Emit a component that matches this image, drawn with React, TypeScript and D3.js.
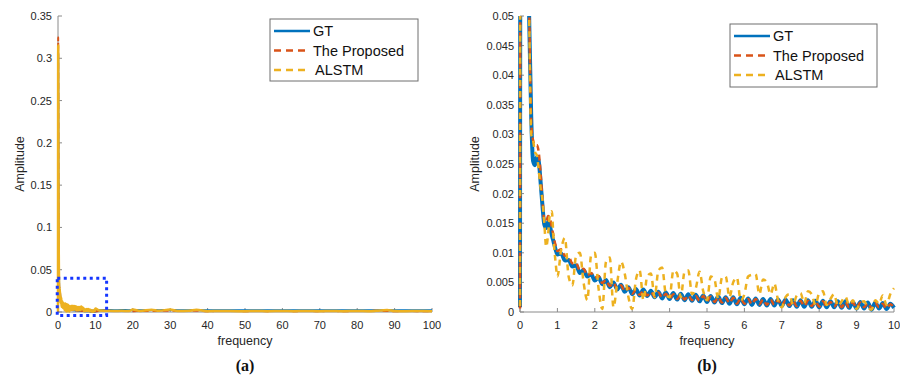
import React from 'react';
import * as d3 from 'd3';

// ---------- data ----------
const freqHead = [0, 0.05, 0.1, 0.15, 0.2, 0.25, 0.3, 0.35, 0.4, 0.45, 0.5, 0.55, 0.6, 0.65, 0.7, 0.75, 0.8, 0.85, 0.9, 0.95];
const freqBody = [
  1.0, 1.1, 1.2, 1.3, 1.4, 1.5, 1.6, 1.7, 1.8, 1.9,
  2.0, 2.1, 2.2, 2.3, 2.4, 2.5, 2.6, 2.7, 2.8, 2.9,
  3.0, 3.1, 3.2, 3.3, 3.4, 3.5, 3.6, 3.7, 3.8, 3.9,
  4.0, 4.1, 4.2, 4.3, 4.4, 4.5, 4.6, 4.7, 4.8, 4.9,
  5.0, 5.1, 5.2, 5.3, 5.4, 5.5, 5.6, 5.7, 5.8, 5.9,
  6.0, 6.1, 6.2, 6.3, 6.4, 6.5, 6.6, 6.7, 6.8, 6.9,
  7.0, 7.1, 7.2, 7.3, 7.4, 7.5, 7.6, 7.7, 7.8, 7.9,
  8.0, 8.1, 8.2, 8.3, 8.4, 8.5, 8.6, 8.7, 8.8, 8.9,
  9.0, 9.1, 9.2, 9.3, 9.4, 9.5, 9.6, 9.7, 9.8, 9.9,
  10.0,
];
const freqTail = [11, 13, 15, 17, 19, 20, 22, 25, 27, 30, 32, 35, 37, 40, 43, 46, 50, 53, 56, 60, 63, 66, 70, 73, 76, 80, 83, 85, 88, 90, 93, 96, 100];

const gtHead = [0.0008, 0.305, 0.22, 0.12, 0.07, 0.048, 0.033, 0.0255, 0.0248, 0.0262, 0.0255, 0.022, 0.018, 0.0148, 0.0142, 0.0152, 0.0145, 0.013, 0.0118, 0.0106];
const propHead = [0.0006, 0.325, 0.23, 0.13, 0.075, 0.05, 0.032, 0.029, 0.0282, 0.0282, 0.027, 0.0235, 0.019, 0.0155, 0.0152, 0.0162, 0.0158, 0.0143, 0.0127, 0.0113];
const alstmHead = [0.001, 0.315, 0.22, 0.12, 0.072, 0.048, 0.03, 0.029, 0.027, 0.0265, 0.024, 0.021, 0.019, 0.015, 0.011, 0.013, 0.0165, 0.017, 0.012, 0.0085];

const gtBody = [
  0.0097, 0.0099, 0.0087, 0.0088, 0.0077, 0.0079, 0.0066, 0.0071, 0.0060, 0.0064,
  0.0053, 0.0059, 0.0047, 0.0054, 0.0042, 0.0050, 0.0038, 0.0046, 0.0034, 0.0042,
  0.0030, 0.0039, 0.0028, 0.0038, 0.0027, 0.0036, 0.0025, 0.0034, 0.0023, 0.0033,
  0.0022, 0.0032, 0.0021, 0.0031, 0.0020, 0.0030, 0.0019, 0.0029, 0.0018, 0.0028,
  0.0017, 0.0027, 0.0016, 0.0026, 0.0015, 0.0025, 0.0014, 0.0025, 0.0013, 0.0024,
  0.0013, 0.0023, 0.0012, 0.0023, 0.0012, 0.0022, 0.0011, 0.0022, 0.0011, 0.0021,
  0.0010, 0.0021, 0.0010, 0.0020, 0.0009, 0.0020, 0.0009, 0.0020, 0.0009, 0.0019,
  0.0008, 0.0019, 0.0008, 0.0018, 0.0008, 0.0018, 0.0007, 0.0018, 0.0007, 0.0017,
  0.0006, 0.0017, 0.0006, 0.0016, 0.0004, 0.0016, 0.0006, 0.0015, 0.0005, 0.0014,
  0.0007,
];
const propBody = [
  0.0103, 0.0106, 0.0095, 0.0094, 0.0082, 0.0083, 0.0070, 0.0073, 0.0062, 0.0066,
  0.0058, 0.0061, 0.0049, 0.0054, 0.0044, 0.0049, 0.0039, 0.0045, 0.0035, 0.0041,
  0.0031, 0.0037, 0.0029, 0.0036, 0.0028, 0.0034, 0.0026, 0.0033, 0.0024, 0.0031,
  0.0023, 0.0030, 0.0022, 0.0029, 0.0021, 0.0028, 0.0020, 0.0027, 0.0019, 0.0027,
  0.0018, 0.0026, 0.0017, 0.0025, 0.0016, 0.0024, 0.0015, 0.0024, 0.0014, 0.0023,
  0.0014, 0.0022, 0.0013, 0.0022, 0.0013, 0.0021, 0.0012, 0.0021, 0.0012, 0.0020,
  0.0011, 0.0020, 0.0011, 0.0019, 0.0010, 0.0019, 0.0010, 0.0019, 0.0010, 0.0018,
  0.0009, 0.0018, 0.0009, 0.0017, 0.0009, 0.0017, 0.0008, 0.0017, 0.0008, 0.0016,
  0.0007, 0.0016, 0.0008, 0.0015, 0.0006, 0.0015, 0.0008, 0.0014, 0.0006, 0.0013,
  0.0008,
];
const alstmBody = [
  0.0060, 0.0105, 0.0125, 0.0060, 0.0045, 0.0095, 0.0100, 0.0050, 0.0020, 0.0095,
  0.0100, 0.0040, 0.0005, 0.0085, 0.0092, 0.0008, 0.0050, 0.0085, 0.0065, 0.0025,
  0.0005, 0.0055, 0.0070, 0.0020, 0.0060, 0.0065, 0.0025, 0.0070, 0.0075, 0.0030,
  0.0025, 0.0070, 0.0065, 0.0025, 0.0068, 0.0070, 0.0030, 0.0040, 0.0068, 0.0035,
  0.0020, 0.0060, 0.0055, 0.0022, 0.0058, 0.0060, 0.0025, 0.0050, 0.0058, 0.0020,
  0.0030, 0.0060, 0.0063, 0.0064, 0.0030, 0.0055, 0.0050, 0.0030, 0.0048, 0.0020,
  0.0008, 0.0025, 0.0030, 0.0012, 0.0028, 0.0032, 0.0015, 0.0035, 0.0030, 0.0012,
  0.0032, 0.0035, 0.0012, 0.0022, 0.0030, 0.0010, 0.0018, 0.0026, 0.0012, 0.0020,
  0.0005, 0.0016, 0.0018, 0.0008, 0.0004, 0.0020, 0.0014, 0.0028, 0.0012, 0.0030,
  0.0040,
];

const gtTail = [0.0022, 0.0024, 0.0021, 0.0023, 0.0022, 0.0024, 0.0021, 0.0023, 0.0022, 0.0024, 0.0021, 0.0022, 0.0023, 0.0021, 0.0022, 0.0020, 0.0022, 0.0021, 0.0020, 0.0022, 0.0021, 0.0020, 0.0021, 0.0020, 0.0021, 0.0020, 0.0021, 0.0020, 0.0021, 0.0020, 0.0021, 0.0020, 0.0020];
const propTail = [0.0012, 0.0014, 0.0011, 0.0012, 0.0013, 0.0010, 0.0012, 0.0011, 0.0013, 0.0016, 0.0011, 0.0012, 0.0015, 0.0010, 0.0011, 0.0012, 0.0010, 0.0011, 0.0010, 0.0012, 0.0010, 0.0011, 0.0010, 0.0011, 0.0010, 0.0011, 0.0012, 0.0016, 0.0011, 0.0010, 0.0011, 0.0010, 0.0010];
const alstmTail = [0.0018, 0.0015, 0.0012, 0.0014, 0.0011, 0.0030, 0.0012, 0.0028, 0.0014, 0.0030, 0.0012, 0.0014, 0.0026, 0.0010, 0.0012, 0.0011, 0.0010, 0.0012, 0.0010, 0.0011, 0.0010, 0.0012, 0.0010, 0.0011, 0.0010, 0.0012, 0.0010, 0.0014, 0.0024, 0.0012, 0.0010, 0.0011, 0.0010];

const seriesNames = ['GT', 'The Proposed', 'ALSTM'];
const leftXTicks = [0, 10, 20, 30, 40, 50, 60, 70, 80, 90, 100];
const leftYTicks = [0, 0.05, 0.1, 0.15, 0.2, 0.25, 0.3, 0.35];
const leftYLabels = ['0', '0.05', '0.1', '0.15', '0.2', '0.25', '0.3', '0.35'];
const rightXTicks = [0, 1, 2, 3, 4, 5, 6, 7, 8, 9, 10];
const rightYTicks = [0, 0.005, 0.01, 0.015, 0.02, 0.025, 0.03, 0.035, 0.04, 0.045, 0.05];
const rightYLabels = ['0', '0.005', '0.01', '0.015', '0.02', '0.025', '0.03', '0.035', '0.04', '0.045', '0.05'];
const zoomBoxX = [-0.2, 13];
const zoomBoxY = [-0.004, 0.04];

// ---------- styling ----------
const COL = { gt: '#0072BD', prop: '#D95319', alstm: '#EDB120' };
const FONT = '"Liberation Sans", Arial, sans-serif';
const AXIS = '#8a8a8a';
const TXT = '#262626';

type Pt = [number, number];
const zip = (xs: number[], ys: number[]): Pt[] => xs.map((x, i) => [x, ys[i]] as Pt);

const zoomFreq = [...freqHead, ...freqBody];
const gtZoom = zip(zoomFreq, [...gtHead, ...gtBody]);
const propZoom = zip(zoomFreq, [...propHead, ...propBody]);
const alstmZoom = zip(zoomFreq, [...alstmHead, ...alstmBody]);
const gtFull = [...gtZoom, ...zip(freqTail, gtTail)];
const propFull = [...propZoom, ...zip(freqTail, propTail)];
const alstmFull = [...alstmZoom, ...zip(freqTail, alstmTail)];

interface PanelProps {
  id: string;
  box: { l: number; r: number; t: number; b: number };
  xDomain: [number, number];
  yDomain: [number, number];
  xTicks: number[];
  yTicks: number[];
  yLabels: string[];
  lines: { data: Pt[]; color: string; width: number; dash?: string }[];
  legend: { x: number; y: number; w: number; h: number };
  yLabelX: number;
  caption: string;
  zoomBox?: boolean;
}

function Panel(p: PanelProps) {
  const x = d3.scaleLinear().domain(p.xDomain).range([p.box.l, p.box.r]);
  const y = d3.scaleLinear().domain(p.yDomain).range([p.box.b, p.box.t]);
  const line = d3
    .line<Pt>()
    .x((d) => x(d[0]))
    .y((d) => y(d[1]))
    .curve(d3.curveMonotoneX);
  const cx = (p.box.l + p.box.r) / 2;
  const lg = p.legend;
  const legendStyles = [
    { color: COL.gt, dash: undefined as string | undefined, width: 2.5 },
    { color: COL.prop, dash: '7 5', width: 2.5 },
    { color: COL.alstm, dash: '7 5', width: 2.5 },
  ];
  return (
    <g>
      <defs>
        <clipPath id={`clip-${p.id}`}>
          <rect x={p.box.l - 3} y={p.box.t} width={p.box.r - p.box.l + 6} height={p.box.b - p.box.t + 3} />
        </clipPath>
      </defs>
      {/* axes */}
      <line x1={p.box.l} x2={p.box.r} y1={p.box.b} y2={p.box.b} stroke={AXIS} strokeWidth={1} />
      <line x1={p.box.l} x2={p.box.l} y1={p.box.t} y2={p.box.b} stroke={AXIS} strokeWidth={1} />
      {p.xTicks.map((t) => (
        <g key={`xt${t}`}>
          <line x1={x(t)} x2={x(t)} y1={p.box.b} y2={p.box.b - 4} stroke={AXIS} />
          <text x={x(t)} y={p.box.b + 17} textAnchor="middle" fontSize={11} fontFamily={FONT} fill={TXT}>
            {t}
          </text>
        </g>
      ))}
      {p.yTicks.map((t, i) => (
        <g key={`yt${t}`}>
          <line x1={p.box.l} x2={p.box.l + 4} y1={y(t)} y2={y(t)} stroke={AXIS} />
          <text x={p.box.l - 6} y={y(t) + 4} textAnchor="end" fontSize={11} fontFamily={FONT} fill={TXT}>
            {p.yLabels[i]}
          </text>
        </g>
      ))}
      <text x={cx} y={345} textAnchor="middle" fontSize={12.5} fontFamily={FONT} fill={TXT}>
        frequency
      </text>
      <text
        transform={`translate(${p.yLabelX},${(p.box.t + p.box.b) / 2}) rotate(-90)`}
        textAnchor="middle"
        dy="0.35em"
        fontSize={12.5}
        fontFamily={FONT}
        fill={TXT}
      >
        Amplitude
      </text>
      <text x={cx} y={371} textAnchor="middle" fontSize={16} fontWeight="bold" fontFamily='"Liberation Serif", "DejaVu Serif", serif' fill="#111">
        {p.caption}
      </text>
      {/* data */}
      <g clipPath={`url(#clip-${p.id})`}>
        {p.lines.map((l, i) => (
          <path
            key={i}
            d={line(l.data) || ''}
            fill="none"
            stroke={l.color}
            strokeWidth={l.width}
            strokeDasharray={l.dash}
            strokeLinejoin="round"
          />
        ))}
      </g>
      {p.zoomBox && (
        <rect
          x={x(zoomBoxX[0])}
          y={y(zoomBoxY[1])}
          width={x(zoomBoxX[1]) - x(zoomBoxX[0])}
          height={y(zoomBoxY[0]) - y(zoomBoxY[1])}
          fill="none"
          stroke="#1436ff"
          strokeWidth={3}
          strokeDasharray="3 3.5"
        />
      )}
      {/* legend */}
      <rect x={lg.x} y={lg.y} width={lg.w} height={lg.h} fill="#fff" stroke="#6e6e6e" strokeWidth={1} />
      {seriesNames.map((name, i) => {
        const ly = lg.y + 12 + i * 19.5;
        const st = legendStyles[i];
        return (
          <g key={name}>
            <line
              x1={lg.x + 4}
              x2={lg.x + 40}
              y1={ly}
              y2={ly}
              stroke={st.color}
              strokeWidth={st.width}
              strokeDasharray={st.dash}
            />
            <text x={lg.x + (i === 2 ? 45 : 43)} y={ly + 5} fontSize={14.5} fontFamily={FONT} fill="#111">
              {name}
            </text>
          </g>
        );
      })}
    </g>
  );
}

export default function App() {
  return (
    <svg
      width={900}
      height={376}
      viewBox="0 0 900 376"
      style={{ position: 'absolute', left: 0, top: 0, background: '#fff', display: 'block' }}
    >
      <rect x={0} y={0} width={900} height={376} fill="#fff" />
      <Panel
        id="a"
        box={{ l: 58, r: 432, t: 16, b: 312 }}
        xDomain={[0, 100]}
        yDomain={[0, 0.35]}
        xTicks={leftXTicks}
        yTicks={leftYTicks}
        yLabels={leftYLabels}
        lines={[
          { data: gtFull, color: COL.gt, width: 2 },
          { data: propFull, color: COL.prop, width: 2, dash: '6 4' },
          { data: alstmFull, color: COL.alstm, width: 2.5 },
        ]}
        legend={{ x: 270, y: 19, w: 148, h: 62 }}
        yLabelX={20}
        caption="(a)"
        zoomBox
      />
      <Panel
        id="b"
        box={{ l: 520, r: 894, t: 16, b: 312 }}
        xDomain={[0, 10]}
        yDomain={[0, 0.05]}
        xTicks={rightXTicks}
        yTicks={rightYTicks}
        yLabels={rightYLabels}
        lines={[
          { data: gtZoom, color: COL.gt, width: 4 },
          { data: propZoom, color: COL.prop, width: 2.5, dash: '6 4' },
          { data: alstmZoom, color: COL.alstm, width: 2.5, dash: '6 5' },
        ]}
        legend={{ x: 730, y: 24, w: 147, h: 63 }}
        yLabelX={475}
        caption="(b)"
      />
    </svg>
  );
}
